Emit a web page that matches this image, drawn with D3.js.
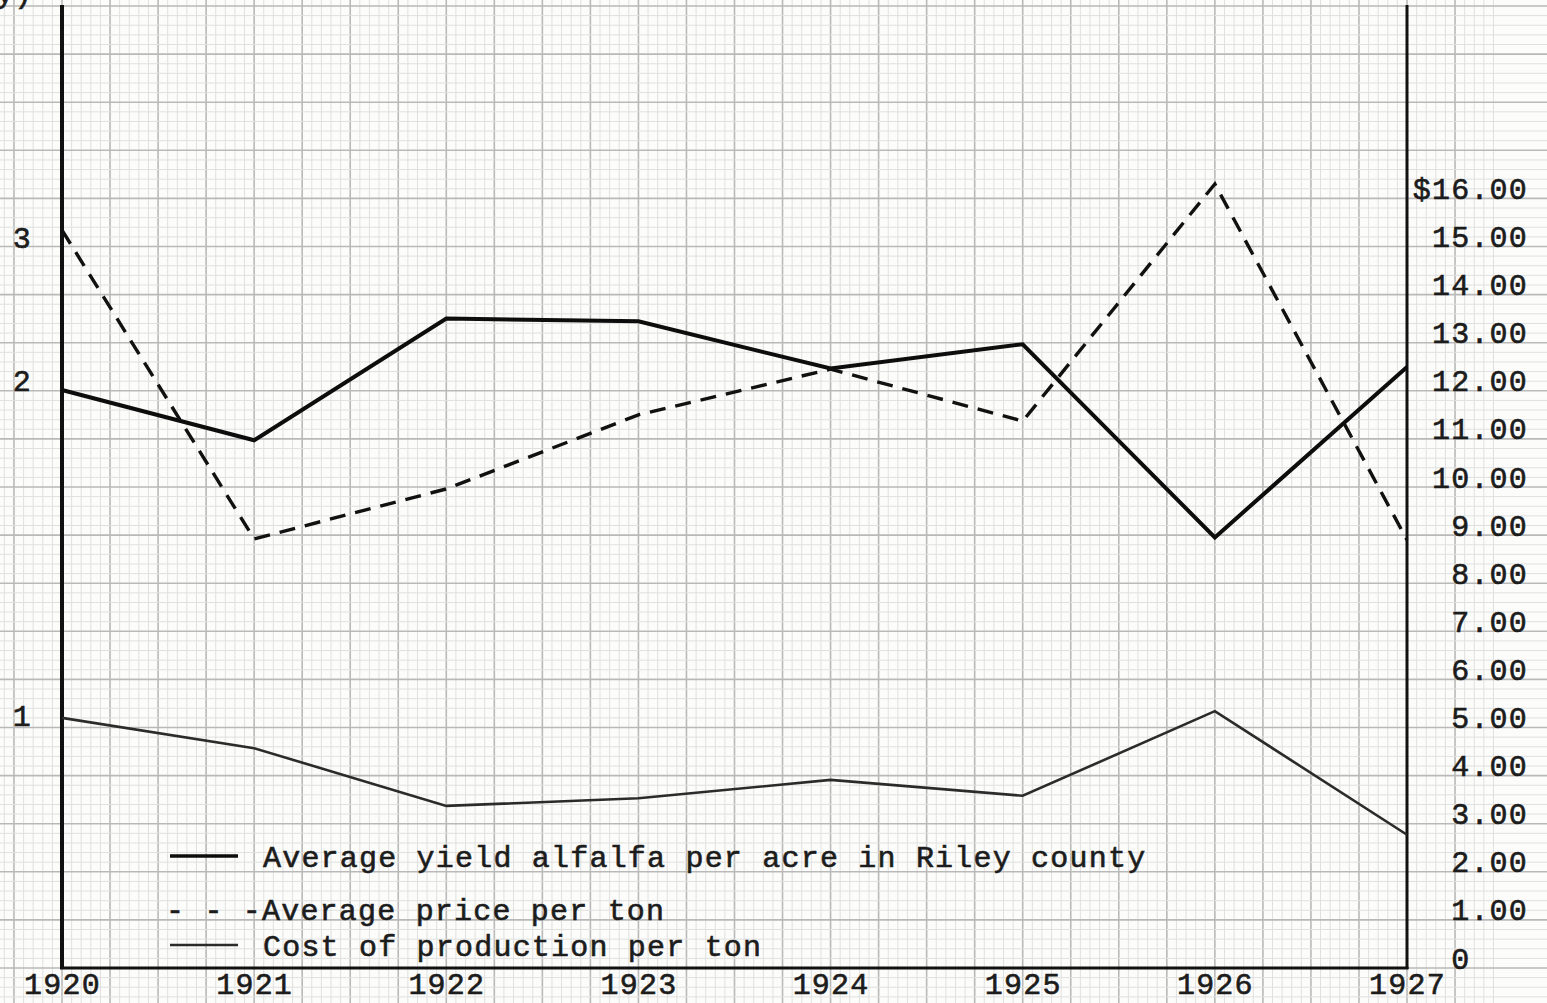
<!DOCTYPE html>
<html>
<head>
<meta charset="utf-8">
<script src="https://cdn.jsdelivr.net/npm/d3@7"></script>
<style>
    body { margin: 0; background: #fcfcfa; }
    svg { display: block; }
    text { font-family: "Courier New", "Liberation Mono", monospace; fill: #1c1c1c; stroke: #1c1c1c; stroke-width: 0.6px; }
</style>
</head>
<body>
<div id="chart"></div>
<script>
// Data
const years = [1920, 1921, 1922, 1923, 1924, 1925, 1926, 1927];
const yieldPerAcre = [2.00, 1.85, 2.50, 2.48, 2.15, 2.32, 1.56, 2.16];      // tons, left axis
const pricePerTon = [15.34, 8.92, 9.96, 11.50, 12.45, 11.37, 16.30, 8.90];  // dollars, right axis
const costPerTon = [5.20, 4.57, 3.37, 3.53, 3.91, 3.58, 5.34, 2.77];        // dollars, right axis
const yieldTicks = [1, 2, 3];
const dollarTicks = [0, 1, 2, 3, 4, 5, 6, 7, 8, 9, 10, 11, 12, 13, 14, 15, 16];
const legendLabels = [
    "Average yield alfalfa per acre in Riley county",
    "- - -Average price per ton",
    "Cost of production per ton"
];

const width = 1547;
const height = 1003;

const svg = d3.select("#chart")
    .append("svg")
    .attr("width", width)
    .attr("height", height);

// Scales
const x = d3.scaleLinear().domain([1920, 1927]).range([62, 1407]);
const yDollar = d3.scaleLinear().domain([0, 16]).range([968, 968 - 16 * 48.1]);
// the yield axis on the left was lettered unevenly, so it is piecewise
const yYield = d3.scaleLinear().domain([1, 2, 3]).range([725, 390, 247]);

// Graph paper grid: fine lines every 0.05 year / $0.20, heavy every 0.25 year / $1
const grid = svg.append("g").attr("class", "grid");
d3.range(-12, 150).forEach((i) => {
    const gx = x(1920 + i * 0.05);
    grid.append("line")
        .attr("x1", gx).attr("x2", gx)
        .attr("y1", 0).attr("y2", height)
        .attr("stroke", i % 5 === 0 ? "#b9b9b9" : "#e0e0e0")
        .attr("stroke-width", i % 5 === 0 ? 1.6 : 1);
});
d3.range(-4, 106).forEach((i) => {
    const gy = yDollar(i * 0.2);
    grid.append("line")
        .attr("x1", 0).attr("x2", width)
        .attr("y1", gy).attr("y2", gy)
        .attr("stroke", i % 5 === 0 ? "#b9b9b9" : "#e0e0e0")
        .attr("stroke-width", i % 5 === 0 ? 1.6 : 1);
});

// Axis frame lines
svg.append("line")
    .attr("x1", x(1920)).attr("x2", x(1920))
    .attr("y1", 5).attr("y2", yDollar(0) + 1)
    .attr("stroke", "#111").attr("stroke-width", 4);
svg.append("line")
    .attr("x1", x(1927)).attr("x2", x(1927))
    .attr("y1", 5).attr("y2", yDollar(0) + 1)
    .attr("stroke", "#111").attr("stroke-width", 3);
svg.append("line")
    .attr("x1", x(1920) - 2).attr("x2", x(1927) + 1.5)
    .attr("y1", yDollar(0)).attr("y2", yDollar(0))
    .attr("stroke", "#111").attr("stroke-width", 3);

// Tick labels
const leftAxis = svg.append("g")
    .attr("transform", `translate(${x(1920)},0)`)
    .call(d3.axisLeft(yYield).tickValues(yieldTicks).tickSize(0).tickPadding(30).tickFormat(d3.format("d")));

const rightAxis = svg.append("g")
    .attr("transform", `translate(${x(1927)},0)`)
    .call(d3.axisRight(yDollar).tickValues(dollarTicks).tickSize(0)
        .tickFormat((d) => d === 16 ? "$16.00" : d === 0 ? "0\u00a0\u00a0\u00a0" : d.toFixed(2)));
rightAxis.selectAll("text").attr("x", 121).attr("text-anchor", "end");

const bottomAxis = svg.append("g")
    .attr("transform", `translate(0,${yDollar(0)})`)
    .call(d3.axisBottom(x).tickValues(years).tickSize(0).tickFormat(d3.format("d")));
bottomAxis.selectAll("text").attr("y", 26);

[leftAxis, rightAxis, bottomAxis].forEach((g) => {
    g.select(".domain").remove();
    g.selectAll("text")
        .attr("dy", 0)
        .attr("font-family", null)
        .attr("fill", "#1c1c1c")
        .style("font-size", "30px")
        .style("letter-spacing", "1.2px");
});

// Lines
const series = [
    { values: yieldPerAcre, y: yYield, width: 4, color: "#0d0d0d", dash: null },
    { values: pricePerTon, y: yDollar, width: 3.4, color: "#111", dash: "16,10" },
    { values: costPerTon, y: yDollar, width: 2.6, color: "#2b2b2b", dash: null }
];

series.forEach((s) => {
    const line = d3.line()
        .x((d, i) => x(years[i]))
        .y((d) => s.y(d));
    svg.append("path")
        .datum(s.values)
        .attr("d", line)
        .attr("fill", "none")
        .attr("stroke", s.color)
        .attr("stroke-width", s.width)
        .attr("stroke-linejoin", "miter")
        .attr("stroke-dasharray", s.dash);
});

// Legend (typed text, with ruled samples for the solid lines)
const legend = svg.append("g").attr("class", "legend");
const legendRows = [
    { text: legendLabels[0], tx: 263, ty: 867, sample: { y: 856, w: 3.4, c: "#0d0d0d" } },
    { text: legendLabels[1], tx: 166, ty: 920, sample: null },
    { text: legendLabels[2], tx: 263, ty: 956, sample: { y: 945, w: 2.6, c: "#2b2b2b" } }
];
legendRows.forEach((r) => {
    if (r.sample) {
        legend.append("line")
            .attr("x1", 170).attr("x2", 238)
            .attr("y1", r.sample.y).attr("y2", r.sample.y)
            .attr("stroke", r.sample.c)
            .attr("stroke-width", r.sample.w);
    }
    legend.append("text")
        .attr("x", r.tx)
        .attr("y", r.ty)
        .style("font-size", "30px")
        .style("letter-spacing", "1.2px")
        .text(r.text);
});

// cut-off lettering at the top left edge of the sheet
svg.append("text")
    .attr("x", -4)
    .attr("y", 3)
    .style("font-size", "30px")
    .text("y)");
</script>
</body>
</html>
